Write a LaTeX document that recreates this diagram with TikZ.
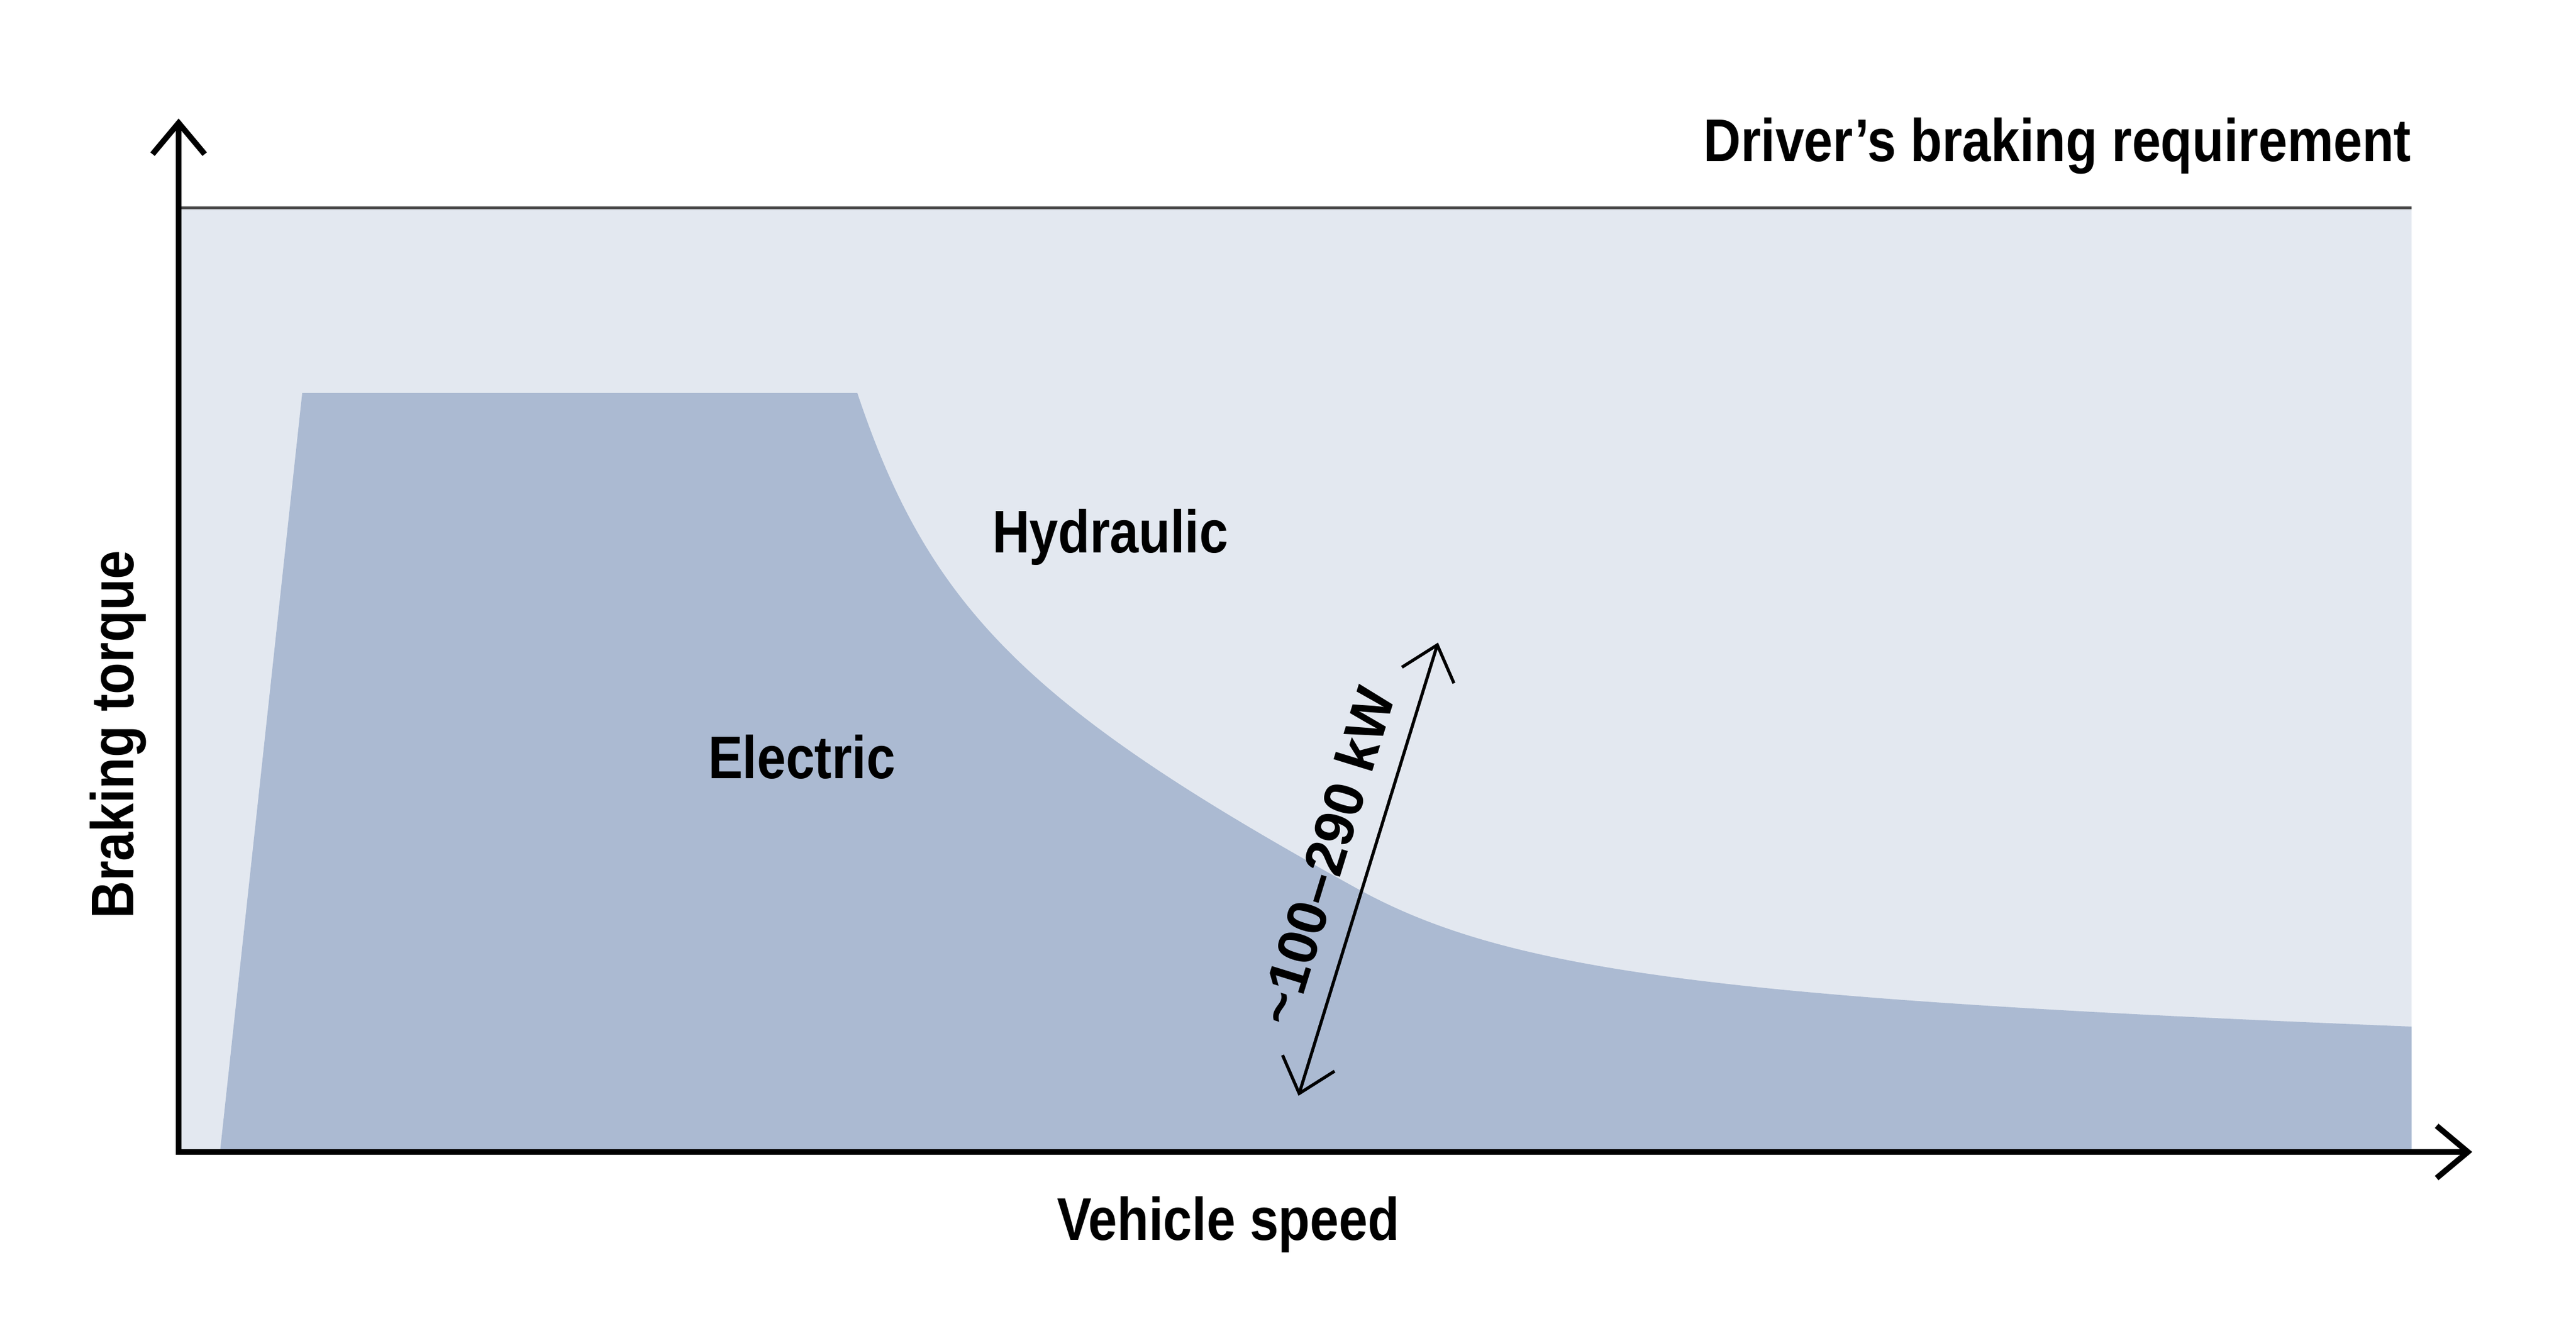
\documentclass[tikz,border=0pt]{standalone}
\usepackage{fontspec}
\usepackage{graphicx}
\usetikzlibrary{arrows.meta}
\newfontfamily\chartfont{Liberation Sans}
\newcommand{\lblfont}{\chartfont\fontsize{30.2}{36}\bfseries\selectfont}
\newcommand{\narrow}[1]{\scalebox{0.86}[1]{#1}}
\definecolor{hydro}{HTML}{E3E8F0}
\definecolor{elec}{HTML}{ABBAD2}

\begin{document}
\begin{tikzpicture}[
		lbl/.style={font=\lblfont, inner sep=0pt},
		axisline/.style={line width=1mm, {Straight Barb[length=5.5mm,width=9.2mm]}-{Straight Barb[length=5.5mm,width=9.2mm]}},
		powerline/.style={line width=0.55mm, {Straight Barb[length=5.6mm,width=9.6mm]}-{Straight Barb[length=5.6mm,width=9.6mm]}},
		reqline/.style={line width=0.5mm, black!70}
	]
				\useasboundingbox (0,0) rectangle (45.43,23.59);
				\coordinate (o) at (3.15,3.28);
				\coordinate (ytip) at (3.15,21.50);
				\coordinate (xtip) at (43.60,3.28);
				\coordinate (req) at (42.53,19.92);
				\coordinate (knee) at (15.12,16.66);
				\coordinate (cross) at (23.94,7.92);
				\coordinate (tail) at (42.53,5.49);
				\coordinate (plo) at (22.90,4.27);
				\coordinate (phi) at (25.36,12.26);
				\fill[hydro] (o) rectangle (req);
				\draw[reqline] (o |- req) -- (req);
				\fill[elec] (3.88,3.28) -- (5.33,16.66) -- (knee)
					.. controls (16.39,12.85) and (18.16,11.10) .. (cross)
					.. controls (26.59,6.46) and (30.31,5.98) .. (tail)
					-- (tail |- o) -- cycle;
				\draw[axisline] (ytip) -- (o) -- (xtip);
				\draw[powerline] (plo) -- node[lbl, sloped, above=4mm, font=\chartfont\fontsize{28}{34}\bfseries\selectfont] (kw) {\textasciitilde100–290 kW} (phi);
				\node[lbl, anchor=base east] (reqlbl) at (42.53,20.74) {\narrow{Driver’s braking requirement}};
				\node[lbl, anchor=base] (hyd) at (19.58,13.84) {\narrow{Hydraulic}};
				\node[lbl, anchor=base] (ele) at (14.14,9.86) {\narrow{Electric}};
				\node[lbl, anchor=base] (speed) at (21.66,1.72) {\narrow{Vehicle speed}};
				\node[lbl, anchor=base, rotate=90] (torque) at (2.35,10.64) {\narrow{Braking torque}};
			\end{tikzpicture}
\end{document}
